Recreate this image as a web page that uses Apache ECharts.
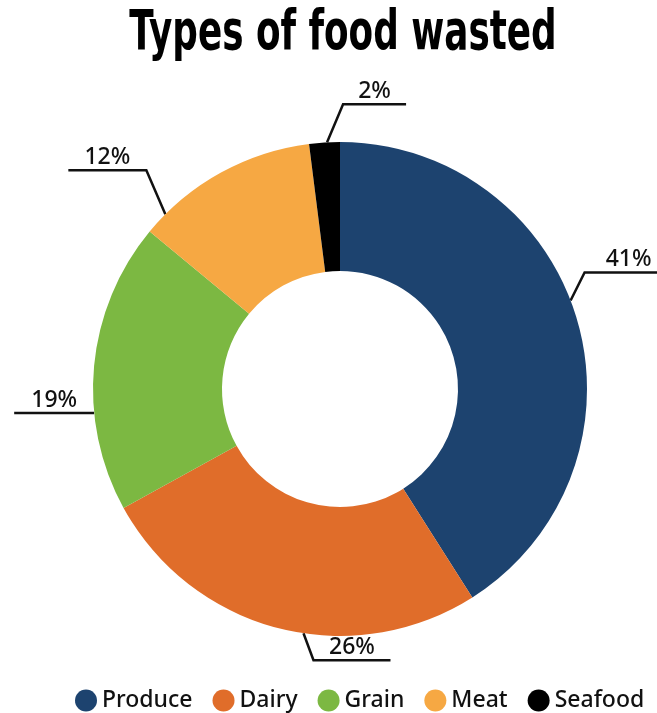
<!DOCTYPE html>
<html>
<head>
<meta charset="utf-8">
<script src="https://cdn.jsdelivr.net/npm/echarts@6/dist/echarts.min.js"></script>
<style>
  html, body { margin: 0; padding: 0; background: #fff; }
  #chart { width: 657px; height: 713px; }
</style>
</head>
<body>
<div id="chart"></div>
<script>
// data
const foodTypes = ['Produce', 'Dairy', 'Grain', 'Meat', 'Seafood'];
const wastedShare = [41, 26, 19, 12, 2];
const sliceColors = ['#1d436f', '#e06d2a', '#7cb842', '#f6a843', '#000000'];
const chartTitle = 'Types of food wasted';

// pie geometry
const cx = 340, cy = 389, rIn = 118, rOut = 247;

// where each label line leaves the ring (deg clockwise from top), then bend + underline
const labelSpots = [
  { angle: 69, dx: 14, dy: -28, seg: 88 },
  { angle: 188.5, dx: 10, dy: 27, seg: 77 },
  { angle: 264.4, dx: 0, dy: 0, seg: -80 },
  { angle: 315, dx: -19, dy: -44, seg: -78 },
  { angle: 357, dx: 16, dy: -38, seg: 63 }
];

const chart = echarts.init(document.getElementById('chart'));

const option = {
  backgroundColor: '#fff',
  animation: false,
  // condensed heavy title: squeeze the text horizontally
  graphic: [
    {
      type: 'text',
      x: 343,
      y: 6,
      scaleX: 0.71,
      style: {
        text: chartTitle,
        fontFamily: '"DejaVu Sans Condensed", "DejaVu Sans", sans-serif',
        fontWeight: 'bold',
        fontSize: 56,
        fill: '#000',
        textAlign: 'center',
        textVerticalAlign: 'top'
      }
    }
  ],
  legend: {
    top: 689,
    left: 75,
    padding: 0,
    icon: 'circle',
    itemWidth: 22,
    itemHeight: 22,
    itemGap: 20,
    textStyle: {
      fontFamily: '"Noto Sans", sans-serif',
      fontSize: 23,
      fontWeight: 500,
      color: '#111'
    },
    data: foodTypes
  },
  color: sliceColors,
  series: [
    {
      type: 'pie',
      center: [cx, cy],
      radius: [rIn, rOut],
      startAngle: 90,
      clockwise: true,
      avoidLabelOverlap: false,
      emphasis: { disabled: true },
      label: {
        show: true,
        formatter: '{c}%',
        color: '#111',
        fontFamily: '"Noto Sans", sans-serif',
        fontSize: 23,
        fontWeight: 500,
        lineHeight: 24
      },
      labelLine: {
        show: true,
        lineStyle: { color: '#111', width: 2.5 }
      },
      labelLayout: function (p) {
        const s = labelSpots[p.dataIndex];
        const a = s.angle * Math.PI / 180;
        const p0 = [cx + rOut * Math.sin(a), cy - rOut * Math.cos(a)];
        const p1 = [p0[0] + s.dx, p0[1] + s.dy];
        const p2 = [p1[0] + s.seg, p1[1]];
        return {
          x: (p1[0] + p2[0]) / 2,
          y: p1[1] - 1,
          align: 'center',
          verticalAlign: 'bottom',
          labelLinePoints: [p0, p1, p2]
        };
      },
      data: foodTypes.map((name, i) => ({ name: name, value: wastedShare[i] }))
    }
  ]
};

chart.setOption(option);
</script>
</body>
</html>
